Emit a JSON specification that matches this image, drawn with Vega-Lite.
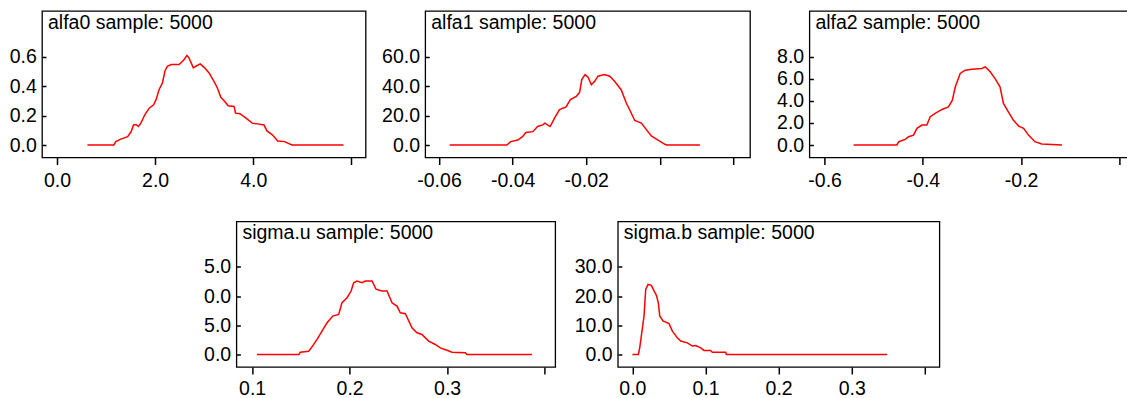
{
  "$schema": "https://vega.github.io/schema/vega-lite/v6.json",
  "padding": {"left": 8, "top": 10, "right": 0, "bottom": 0},
  "background": "white",
  "config": {
    "font": "Liberation Sans",
    "view": {"stroke": "#000", "strokeWidth": 1.3},
    "axis": {"labelFont": "Liberation Sans", "labelFontSize": 19.5, "labelColor": "#000", "grid": false, "domain": false, "tickColor": "#000", "tickWidth": 1.5, "labelFlush": false, "labelOverlap": false, "labelBound": false, "title": null},
    "axisX": {"tickSize": 7, "labelPadding": 7},
    "axisY": {"tickSize": -4, "labelPadding": 9.7},
    "title": {"font": "Liberation Sans", "fontSize": 19.5, "fontWeight": "normal", "color": "#000", "anchor": "start", "frame": "group", "offset": 0, "baseline": "alphabetic", "dx": 6, "dy": 26.3},
    "line": {"color": "#ff0000", "strokeWidth": 1.5}
  },
  "datasets": {
    "alfa0": [
      {"x": 0.62, "y": 0}, {"x": 1.16, "y": 0}, {"x": 1.2, "y": 0.023}, {"x": 1.3, "y": 0.04}, {"x": 1.44, "y": 0.057}, {"x": 1.51, "y": 0.09}, {"x": 1.56, "y": 0.137}, {"x": 1.61, "y": 0.14}, {"x": 1.66, "y": 0.126}, {"x": 1.71, "y": 0.149}, {"x": 1.79, "y": 0.206}, {"x": 1.88, "y": 0.251}, {"x": 1.97, "y": 0.274}, {"x": 2.02, "y": 0.309}, {"x": 2.08, "y": 0.377}, {"x": 2.15, "y": 0.423}, {"x": 2.2, "y": 0.503}, {"x": 2.25, "y": 0.537}, {"x": 2.33, "y": 0.549}, {"x": 2.49, "y": 0.549}, {"x": 2.58, "y": 0.578}, {"x": 2.65, "y": 0.61}, {"x": 2.69, "y": 0.594}, {"x": 2.78, "y": 0.526}, {"x": 2.83, "y": 0.537}, {"x": 2.92, "y": 0.553}, {"x": 3.01, "y": 0.526}, {"x": 3.1, "y": 0.491}, {"x": 3.2, "y": 0.434}, {"x": 3.27, "y": 0.389}, {"x": 3.34, "y": 0.325}, {"x": 3.42, "y": 0.297}, {"x": 3.49, "y": 0.267}, {"x": 3.61, "y": 0.263}, {"x": 3.64, "y": 0.217}, {"x": 3.73, "y": 0.213}, {"x": 3.88, "y": 0.176}, {"x": 3.98, "y": 0.149}, {"x": 4.09, "y": 0.144}, {"x": 4.22, "y": 0.137}, {"x": 4.28, "y": 0.096}, {"x": 4.39, "y": 0.069}, {"x": 4.5, "y": 0.027}, {"x": 4.64, "y": 0.023}, {"x": 4.79, "y": 0}, {"x": 5.84, "y": 0}
    ],
    "alfa1": [
      {"x": -0.0571, "y": 0}, {"x": -0.04155, "y": 0}, {"x": -0.0405, "y": 2.3}, {"x": -0.0386, "y": 3.4}, {"x": -0.0373, "y": 5.7}, {"x": -0.0364, "y": 8.5}, {"x": -0.0345, "y": 9.1}, {"x": -0.0332, "y": 12.6}, {"x": -0.0318, "y": 13.7}, {"x": -0.0312, "y": 14.9}, {"x": -0.0305, "y": 13.7}, {"x": -0.0298, "y": 12.6}, {"x": -0.0286, "y": 18.3}, {"x": -0.0273, "y": 24}, {"x": -0.0264, "y": 25.1}, {"x": -0.0255, "y": 25.8}, {"x": -0.0243, "y": 30.9}, {"x": -0.0227, "y": 33.1}, {"x": -0.0218, "y": 35.9}, {"x": -0.0212, "y": 44.6}, {"x": -0.0203, "y": 48}, {"x": -0.0195, "y": 46.2}, {"x": -0.0186, "y": 41.1}, {"x": -0.0177, "y": 43.4}, {"x": -0.0168, "y": 46.9}, {"x": -0.015, "y": 48}, {"x": -0.0136, "y": 46.9}, {"x": -0.0123, "y": 43.4}, {"x": -0.0105, "y": 37.7}, {"x": -0.0091, "y": 28.6}, {"x": -0.0082, "y": 24}, {"x": -0.0068, "y": 16.7}, {"x": -0.005, "y": 14.9}, {"x": -0.0036, "y": 10.3}, {"x": -0.0023, "y": 6.2}, {"x": -0.0005, "y": 3.4}, {"x": 0.0014, "y": 0.5}, {"x": 0.0018, "y": 0}, {"x": 0.0109, "y": 0}
    ],
    "alfa2": [
      {"x": -0.541, "y": 0}, {"x": -0.453, "y": 0}, {"x": -0.449, "y": 0.3}, {"x": -0.436, "y": 0.51}, {"x": -0.429, "y": 0.75}, {"x": -0.419, "y": 0.9}, {"x": -0.412, "y": 1.51}, {"x": -0.402, "y": 1.81}, {"x": -0.392, "y": 1.81}, {"x": -0.385, "y": 2.57}, {"x": -0.375, "y": 2.87}, {"x": -0.361, "y": 3.23}, {"x": -0.348, "y": 3.47}, {"x": -0.34, "y": 4.08}, {"x": -0.334, "y": 5.29}, {"x": -0.324, "y": 6.5}, {"x": -0.314, "y": 6.8}, {"x": -0.3, "y": 6.89}, {"x": -0.28, "y": 6.95}, {"x": -0.273, "y": 7.1}, {"x": -0.263, "y": 6.65}, {"x": -0.253, "y": 6.04}, {"x": -0.243, "y": 5.29}, {"x": -0.236, "y": 3.78}, {"x": -0.226, "y": 3.02}, {"x": -0.216, "y": 2.27}, {"x": -0.205, "y": 1.72}, {"x": -0.195, "y": 1.51}, {"x": -0.185, "y": 0.9}, {"x": -0.172, "y": 0.3}, {"x": -0.158, "y": 0.09}, {"x": -0.117, "y": 0}
    ],
    "sigmau": [
      {"x": 0.105, "y": 0}, {"x": 0.148, "y": 0}, {"x": 0.1495, "y": 0.4}, {"x": 0.158, "y": 0.57}, {"x": 0.162, "y": 1.43}, {"x": 0.1666, "y": 2.58}, {"x": 0.1717, "y": 4}, {"x": 0.1769, "y": 5.44}, {"x": 0.1827, "y": 6.58}, {"x": 0.1888, "y": 6.87}, {"x": 0.1922, "y": 8.87}, {"x": 0.1974, "y": 9.73}, {"x": 0.2015, "y": 10.88}, {"x": 0.2042, "y": 12.3}, {"x": 0.2076, "y": 12.6}, {"x": 0.2127, "y": 12.3}, {"x": 0.2162, "y": 12.6}, {"x": 0.223, "y": 12.6}, {"x": 0.2271, "y": 11.2}, {"x": 0.2332, "y": 10.88}, {"x": 0.2384, "y": 10.88}, {"x": 0.2435, "y": 8.87}, {"x": 0.2486, "y": 8.3}, {"x": 0.252, "y": 7.16}, {"x": 0.2572, "y": 6.98}, {"x": 0.264, "y": 4.58}, {"x": 0.2691, "y": 3.72}, {"x": 0.2742, "y": 3.43}, {"x": 0.2811, "y": 2.29}, {"x": 0.2879, "y": 1.72}, {"x": 0.293, "y": 1.14}, {"x": 0.2999, "y": 0.74}, {"x": 0.305, "y": 0.4}, {"x": 0.3187, "y": 0.29}, {"x": 0.3204, "y": 0}, {"x": 0.387, "y": 0}
    ],
    "sigmab": [
      {"x": 0, "y": 0}, {"x": 0.0082, "y": 0}, {"x": 0.01, "y": 2.3}, {"x": 0.0128, "y": 7.4}, {"x": 0.0159, "y": 13.2}, {"x": 0.0182, "y": 22.3}, {"x": 0.0214, "y": 24}, {"x": 0.026, "y": 23.7}, {"x": 0.0296, "y": 21.8}, {"x": 0.0328, "y": 20.3}, {"x": 0.0355, "y": 17.7}, {"x": 0.0374, "y": 13.2}, {"x": 0.0419, "y": 11.5}, {"x": 0.0501, "y": 10.6}, {"x": 0.0547, "y": 8}, {"x": 0.0615, "y": 5.7}, {"x": 0.0661, "y": 4.6}, {"x": 0.0752, "y": 4}, {"x": 0.082, "y": 2.9}, {"x": 0.0866, "y": 3.1}, {"x": 0.0934, "y": 2.3}, {"x": 0.0979, "y": 1.4}, {"x": 0.107, "y": 1.4}, {"x": 0.1093, "y": 0.8}, {"x": 0.1276, "y": 0.8}, {"x": 0.1285, "y": 0}, {"x": 0.3485, "y": 0}
    ]
  },
  "vconcat": [
    {
      "hconcat": [
        {
          "width": 323.6, "height": 146.5,
          "title": {"text": "alfa0 sample: 5000"},
          "data": {"name": "alfa0"},
          "mark": {"type": "line"},
          "encoding": {
            "x": {"field": "x", "type": "quantitative", "scale": {"domain": [-0.3058, 6.2915], "nice": false, "zero": false}, "axis": {"values": [0, 2, 4, 6], "labelExpr": "datum.value > 5 ? '' : format(datum.value, '.1f')"}},
            "y": {"field": "y", "type": "quantitative", "scale": {"domain": [-0.0852, 0.9134], "nice": false, "zero": false}, "axis": {"values": [0, 0.2, 0.4, 0.6], "format": ".1f"}}
          }
        },
        {
          "width": 324.8, "height": 146.5,
          "title": {"text": "alfa1 sample: 5000"},
          "data": {"name": "alfa1"},
          "mark": {"type": "line"},
          "encoding": {
            "x": {"field": "x", "type": "quantitative", "scale": {"domain": [-0.06375, 0.02451], "nice": false, "zero": false}, "axis": {"values": [-0.06, -0.04, -0.02, 0, 0.02], "labelExpr": "datum.value > -0.01 ? '' : '-' + format(abs(datum.value), '.2f')"}},
            "y": {"field": "y", "type": "quantitative", "scale": {"domain": [-8.52, 91.34], "nice": false, "zero": false}, "axis": {"values": [0, 20, 40, 60], "format": ".1f"}}
          }
        },
        {
          "width": 324.5, "height": 146.5,
          "title": {"text": "alfa2 sample: 5000"},
          "data": {"name": "alfa2"},
          "mark": {"type": "line"},
          "encoding": {
            "x": {"field": "x", "type": "quantitative", "scale": {"domain": [-0.63098, 0.02951], "nice": false, "zero": false}, "axis": {"values": [-0.6, -0.4, -0.2, 0], "labelExpr": "datum.value > -0.1 ? '' : '-' + format(abs(datum.value), '.1f')"}},
            "y": {"field": "y", "type": "quantitative", "scale": {"domain": [-1.136, 12.18], "nice": false, "zero": false}, "axis": {"values": [0, 2, 4, 6, 8], "format": ".1f"}}
          }
        }
      ],
      "bounds": "flush",
      "spacing": 59.2
    },
    {
      "hconcat": [
        {
          "width": 131.4, "height": 145.5,
          "data": {"values": []},
          "mark": {"type": "point"},
          "encoding": {},
          "view": {"stroke": null}
        },
        {
          "width": 318.8, "height": 145.5,
          "title": {"text": "sigma.u sample: 5000"},
          "data": {"name": "sigmau"},
          "mark": {"type": "line"},
          "encoding": {
            "x": {"field": "x", "type": "quantitative", "scale": {"domain": [0.0839, 0.41087], "nice": false, "zero": false}, "axis": {"values": [0.1, 0.2, 0.3, 0.4], "labelPadding": 5, "labelExpr": "datum.value > 0.35 ? '' : format(datum.value, '.1f')"}},
            "y": {"field": "y", "type": "quantitative", "scale": {"domain": [-2.143, 22.8], "nice": false, "zero": false}, "axis": {"values": [0, 5, 10, 15], "labelExpr": "format(datum.value % 10, '.1f')"}}
          }
        },
        {
          "width": 321.6, "height": 145.5,
          "title": {"text": "sigma.b sample: 5000"},
          "data": {"name": "sigmab"},
          "mark": {"type": "line"},
          "encoding": {
            "x": {"field": "x", "type": "quantitative", "scale": {"domain": [-0.01997, 0.41997], "nice": false, "zero": false}, "axis": {"values": [0, 0.1, 0.2, 0.3, 0.4], "labelPadding": 5, "labelExpr": "datum.value > 0.35 ? '' : format(datum.value, '.1f')"}},
            "y": {"field": "y", "type": "quantitative", "scale": {"domain": [-4.286, 45.6], "nice": false, "zero": false}, "axis": {"values": [0, 10, 20, 30], "format": ".1f"}}
          }
        }
      ],
      "bounds": "flush",
      "spacing": 62.4
    }
  ],
  "spacing": 29.5
}
